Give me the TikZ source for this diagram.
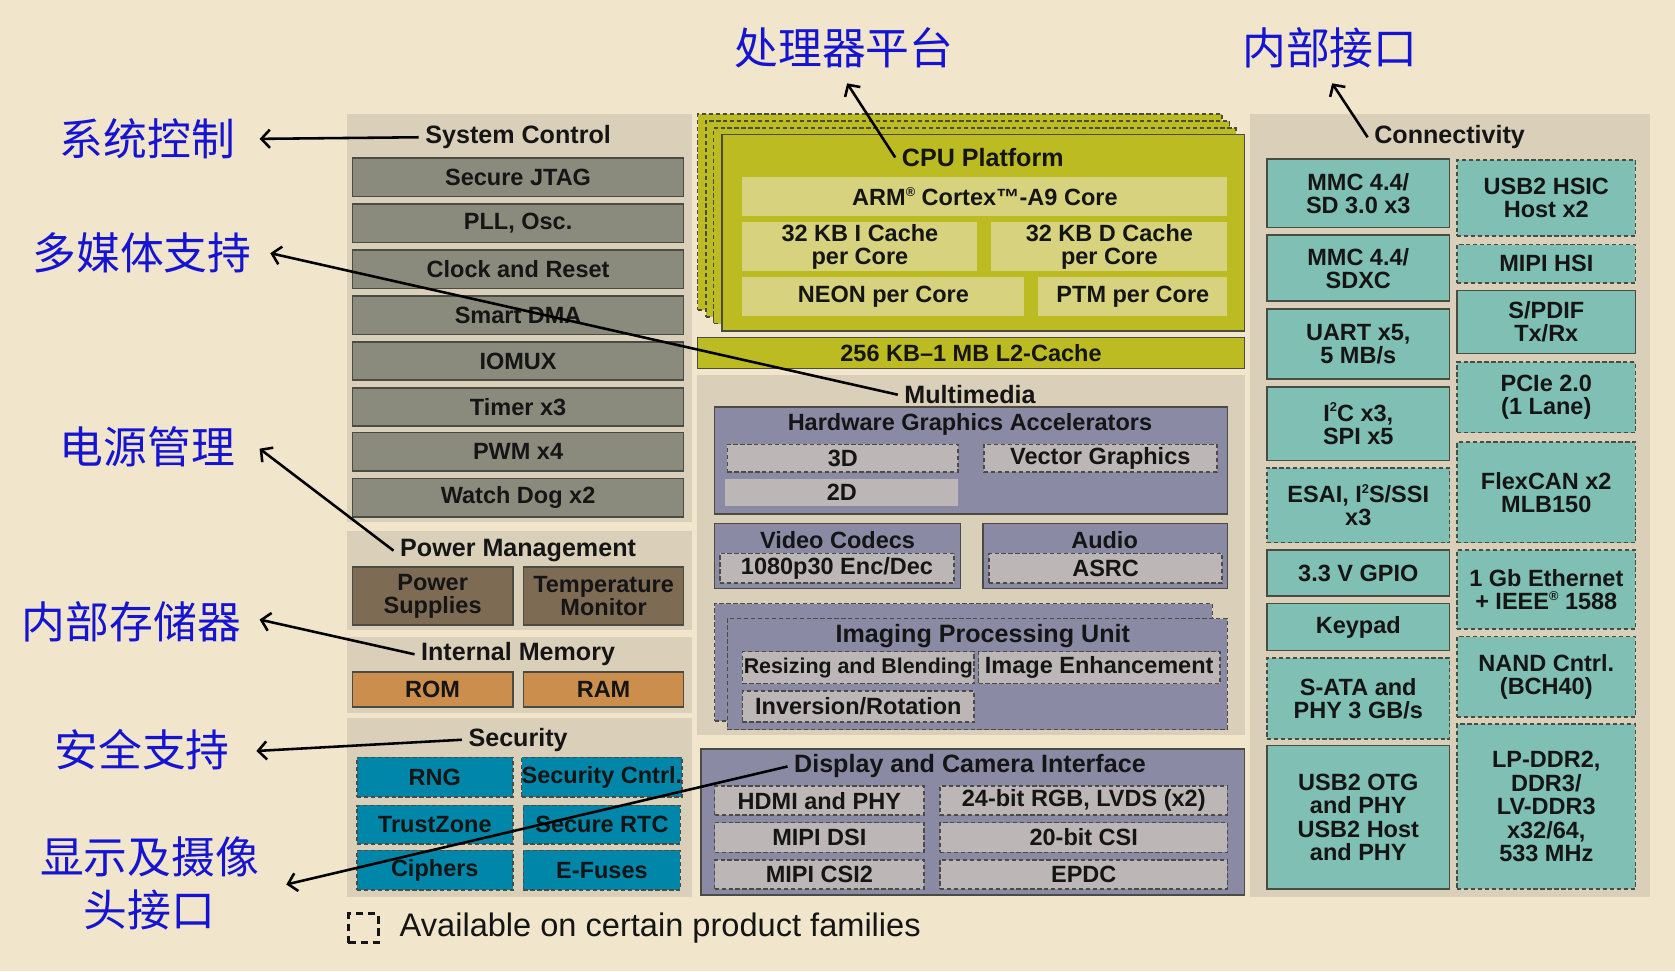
\documentclass[tikz,border=0pt]{standalone}
\usepackage{fontspec}
\setmainfont{Liberation Sans}
\newfontfamily\cjk{Noto Sans CJK SC}
\usetikzlibrary{arrows.meta}
\definecolor{cream}{HTML}{F1E6CB}
\definecolor{tan}{HTML}{DAD0B9}
\definecolor{gbox}{HTML}{8A8B7D}
\definecolor{dline}{HTML}{4A4B42}
\definecolor{brownb}{HTML}{7D6B54}
\definecolor{orangeb}{HTML}{CC8E4D}
\definecolor{secb}{HTML}{0086A8}
\definecolor{cpug}{HTML}{BCBB22}
\definecolor{cpuin}{HTML}{D6D27E}
\definecolor{purp}{HTML}{8A8AA5}
\definecolor{lgray}{HTML}{BDB6B7}
\definecolor{teal}{HTML}{80BFB3}
\definecolor{cnblue}{HTML}{1414D2}
\definecolor{txt}{HTML}{151515}
\newcommand\boxfont{\bfseries\fontsize{22}{21.5}\selectfont}
\newcommand\ttlfont{\bfseries\fontsize{23.5}{24}\selectfont}
\newcommand\sups[1]{\raisebox{0.75ex}{\fontsize{12}{12}\selectfont #1}}
\newcommand\mybox[7]{\node[#2, minimum width={(#5-#3)*1pt}, minimum height={(#6-#4)*1pt}] (#1) at ({(#3+#5)/2},{(#4+#6)/2}) {#7};}
\begin{document}
\begin{tikzpicture}[x=1pt,y=-1pt,
  panel/.style={fill=tan},
  bx/.style={inner sep=0pt, align=center, text=txt, font=\boxfont, line width=1.5pt},
  solidb/.style={bx, draw=dline},
  dashb/.style={bx, draw=dline, dash pattern=on 4pt off 2.5pt},
  grayb/.style={solidb, fill=gbox},
  brownbx/.style={solidb, fill=brownb},
  orangebx/.style={solidb, fill=orangeb},
  secbx/.style={dashb, fill=secb},
  cpuinner/.style={bx, fill=cpuin},
  cpulayer/.style={dashb, fill=cpug},
  purpb/.style={solidb, fill=purp},
  purpd/.style={dashb, fill=purp},
  lgd/.style={dashb, fill=lgray},
  lgs/.style={bx, fill=lgray},
  tealb/.style={solidb, fill=teal},
  teald/.style={dashb, fill=teal},
  ttl/.style={inner sep=6pt, text=txt, font=\ttlfont},
  cn/.style={inner sep=0pt, text=cnblue, font=\cjk\fontsize{41}{50}\selectfont, align=center},
  arr/.style={draw=black, line width=2.4pt, -{Straight Barb[length=8pt,width=17pt]}}
]
\useasboundingbox (0,0) rectangle (1568,909);
\fill[cream] (0,0) rectangle (1568,909);

% ---------- left column ----------
\fill[panel] (325,107) rectangle (648,489);
\fill[panel] (325,497) rectangle (648,590);
\fill[panel] (325,596) rectangle (648,667);
\fill[panel] (325,672) rectangle (648,840);
\node[ttl] (sctitle) at (485,128.5) {System Control};
\node[ttl] (pmtitle) at (485,515.5) {Power Management};
\node[ttl] (imtitle) at (485,612.5) {Internal Memory};
\node[ttl] (sectitle) at (485,692.5) {Security};

\mybox{jtag}{grayb}{330}{148}{640}{184}{Secure JTAG}
\mybox{pll}{grayb}{330}{191}{640}{227}{PLL, Osc.}
\mybox{clk}{grayb}{330}{234}{640}{270}{Clock and Reset}
\mybox{dma}{grayb}{330}{277}{640}{313}{Smart DMA}
\mybox{iomux}{grayb}{330}{320}{640}{356}{IOMUX}
\mybox{timer}{grayb}{330}{363}{640}{399}{Timer x3}
\mybox{pwm}{grayb}{330}{405}{640}{441}{PWM x4}
\mybox{wdog}{grayb}{330}{448}{640}{484}{Watch Dog x2}

\mybox{psup}{brownbx}{330}{531}{480}{585}{Power\\Supplies}
\mybox{tmon}{brownbx}{490}{531}{640}{585}{Temperature\\Monitor}

\mybox{rom}{orangebx}{330}{629}{480}{662}{ROM}
\mybox{ram}{orangebx}{490}{629}{640}{662}{RAM}

\mybox{rng}{secbx}{334}{709}{480}{746}{RNG}
\mybox{scntrl}{secbx}{490}{709}{637}{746}{Security Cntrl.}
\mybox{tz}{secbx}{334}{754}{480}{790}{TrustZone}
\mybox{srtc}{secbx}{490}{754}{637}{790}{Secure RTC}
\mybox{ciph}{secbx}{334}{796}{480}{833}{Ciphers}
\mybox{efuse}{secbx}{490}{796}{637}{833}{E-Fuses}

% ---------- middle column ----------
\mybox{cpul3}{cpulayer}{653}{107}{1144}{290}{}
\mybox{cpul2}{cpulayer}{661}{113}{1151}{297}{}
\mybox{cpul1}{cpulayer}{668}{120}{1157}{303}{}
\mybox{cpu}{solidb, fill=cpug}{676}{126}{1165}{310}{}
\node[ttl] (cputitle) at (920,147.5) {CPU Platform};
\mybox{arm}{cpuinner}{695}{166}{1149}{202}{ARM\sups{®} Cortex™-A9 Core}
\mybox{icache}{cpuinner}{695}{208}{915}{254}{32 KB I Cache\\per Core}
\mybox{dcache}{cpuinner}{928}{208}{1149}{254}{32 KB D Cache\\per Core}
\mybox{neon}{cpuinner}{695}{259}{959}{296}{NEON per Core}
\mybox{ptm}{cpuinner}{972}{259}{1149}{296}{PTM per Core}
\mybox{ltwo}{solidb, fill=cpug}{653}{316}{1165}{345}{256 KB–1 MB L2-Cache}

\fill[panel] (652,351) rectangle (1165,688);
\node[ttl] (mmtitle) at (908,369.5) {Multimedia};
\mybox{hga}{purpb}{669}{381}{1149}{481}{}
\node[bx] (hgatitle) at (908,397.5) {Hardware Graphics Accelerators};
\mybox{threed}{lgd}{681}{416}{897}{442}{3D}
\mybox{vg}{lgd}{921}{416}{1139}{442}{Vector Graphics}
\mybox{twod}{lgs}{679}{448}{897}{474}{2D}
\mybox{vid}{purpb}{669}{490}{899}{551}{}
\node[bx] (vidtitle) at (784,506) {Video Codecs};
\mybox{enc}{lgd}{674}{518}{893}{546}{1080p30 Enc/Dec}
\mybox{aud}{purpb}{920}{490}{1149}{551}{}
\node[bx] (audtitle) at (1034,506) {Audio};
\mybox{asrc}{lgd}{926}{518}{1144}{546}{ASRC}
\mybox{ipuback}{purpd}{669}{565}{1135}{675}{}
\mybox{ipu}{purpd}{681}{579}{1149}{683}{}
\node[ttl] (iputitle) at (920,595.5) {Imaging Processing Unit};
\mybox{resz}{lgd, font=\bfseries\fontsize{20}{21}\selectfont}{695}{610}{912}{640}{Resizing and Blending}
\mybox{imgenh}{lgd}{916}{610}{1142}{640}{Image Enhancement}
\mybox{invrot}{lgd}{695}{647}{912}{676}{Inversion/Rotation}

\mybox{dci}{purpb}{656}{701}{1165}{838}{}
\node[ttl] (dcititle) at (908,717.5) {Display and Camera Interface};
\mybox{hdmi}{lgd}{669}{736}{865}{763}{HDMI and PHY}
\mybox{rgb}{lgd}{880}{736}{1149}{763}{24-bit RGB, LVDS (x2)}
\mybox{dsi}{lgd}{669}{770}{865}{798}{MIPI DSI}
\mybox{csi}{lgd}{880}{770}{1149}{798}{20-bit CSI}
\mybox{csitwo}{lgd}{669}{805}{865}{832}{MIPI CSI2}
\mybox{epdc}{lgd}{880}{805}{1149}{832}{EPDC}

% ---------- right column ----------
\fill[panel] (1170,107) rectangle (1545,840);
\node[ttl] (contitle) at (1357,128.5) {Connectivity};
\mybox{mmcsd}{tealb}{1186}{149}{1357}{213}{MMC 4.4/\\SD 3.0 x3}
\mybox{sdxc}{tealb}{1186}{220}{1357}{282}{MMC 4.4/\\SDXC}
\mybox{uart}{tealb}{1186}{289}{1357}{355}{UART x5,\\5 MB/s}
\mybox{itwoc}{tealb}{1186}{362}{1357}{431}{I\sups{2}C x3,\\SPI x5}
\mybox{esai}{teald}{1186}{438}{1357}{508}{ESAI, I\sups{2}S/SSI\\x3}
\mybox{gpio}{tealb}{1186}{515}{1357}{558}{3.3 V GPIO}
\mybox{keypad}{tealb}{1186}{565}{1357}{609}{Keypad}
\mybox{sata}{teald}{1186}{616}{1357}{692}{S-ATA and\\PHY 3 GB/s}
\mybox{usbotg}{tealb, font=\bfseries\fontsize{22}{22}\selectfont}{1186}{698}{1357}{832}{USB2 OTG\\and PHY\\USB2 Host\\and PHY}
\mybox{hsic}{teald}{1364}{150}{1531}{221}{USB2 HSIC\\Host x2}
\mybox{hsi}{teald}{1364}{229}{1531}{265}{MIPI HSI}
\mybox{spdif}{tealb}{1364}{272}{1531}{331}{S/PDIF\\Tx/Rx}
\mybox{pcie}{teald}{1364}{339}{1531}{405}{PCIe 2.0\\(1 Lane)}
\mybox{flexcan}{teald}{1364}{414}{1531}{508}{FlexCAN x2\\MLB150}
\mybox{eth}{teald}{1364}{515}{1531}{589}{1 Gb Ethernet\\+ IEEE\sups{®} 1588}
\mybox{nand}{teald}{1364}{596}{1531}{671}{NAND Cntrl.\\(BCH40)}
\mybox{lpddr}{teald, font=\bfseries\fontsize{22}{22}\selectfont}{1364}{678}{1531}{832}{LP-DDR2,\\DDR3/\\LV-DDR3\\x32/64,\\533 MHz}

% ---------- legend ----------
\node[draw=txt, line width=2.8pt, dash pattern=on 7pt off 4.5pt, minimum width=28pt, minimum height=27pt, inner sep=0pt] (legbox) at (340,869) {};
\node[anchor=west, inner sep=0pt, text=txt, font=\fontsize{30.5}{32}\selectfont] (legtext) at (374,869) {Available on certain product families};

% ---------- Chinese labels ----------
\node[cn] (lsys) at (138,130) {系统控制};
\node[cn] (lcpu) at (790,45) {处理器平台};
\node[cn] (lcon) at (1245,45) {内部接口};
\node[cn] (lmm) at (133,237) {多媒体支持};
\node[cn] (lpm) at (138,418) {电源管理};
\node[cn] (lim) at (123,582) {内部存储器};
\node[cn] (lsec) at (133,702) {安全支持};
\node[cn] (ldci) at (140,827) {显示及摄像\\头接口};

\coordinate (tsys) at (243,130);
\coordinate (tcpu) at (793,78);
\coordinate (tcon) at (1247,78);
\coordinate (tmm) at (253,237);
\coordinate (tpm) at (243,420);
\coordinate (tim) at (243,580);
\coordinate (tsec) at (240,703);
\coordinate (tdci) at (268,828);

\draw[arr] (sctitle.west) -- (tsys);
\draw[arr] (cputitle.west) -- (tcpu);
\draw[arr] (contitle.west) -- (tcon);
\draw[arr] (mmtitle.west) -- (tmm);
\draw[arr] (pmtitle.west) -- (tpm);
\draw[arr] (imtitle.west) -- (tim);
\draw[arr] (sectitle.west) -- (tsec);
\draw[arr] (dcititle.west) -- (tdci);
\end{tikzpicture}
\end{document}
